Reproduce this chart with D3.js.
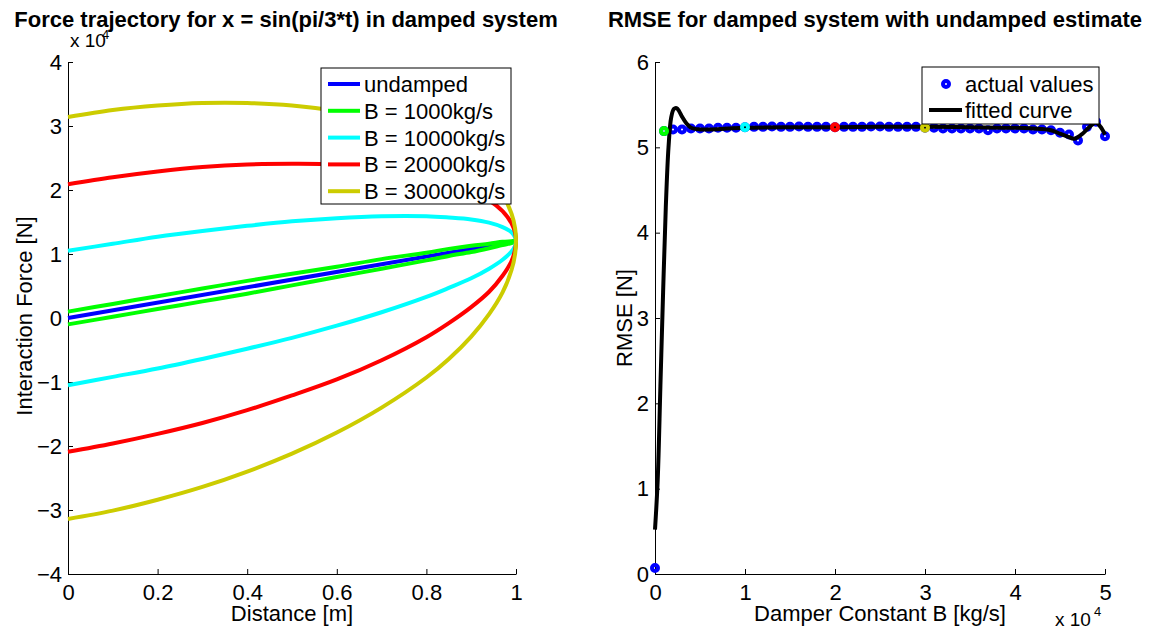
<!DOCTYPE html>
<html><head><meta charset="utf-8">
<script src="https://cdn.jsdelivr.net/npm/d3@7"></script>
<style>
body{margin:0;background:#fff}
text{font-family:"Liberation Sans",Arial,Helvetica,sans-serif;fill:#000}
</style>
</head><body><script>
// ---------- Left chart data (force in units of 1e4 N) ----------
const distX = [0,0.1,0.2,0.3,0.4,0.5,0.6,0.7,0.8,0.85,0.9,0.94,0.97,0.99,0.998,1];
const undampedX = [0,1];
const undampedF = [0,1.2];
const b1000Upper  = [0.10,0.22,0.34,0.46,0.58,0.69,0.80,0.92,1.02,1.08,1.13,1.16,1.19,1.20,1.205,1.20];
const b1000Lower  = [-0.10,0.02,0.14,0.26,0.38,0.51,0.64,0.77,0.90,0.97,1.03,1.09,1.14,1.17,1.19,1.20];
const b10000Upper = [1.05,1.16,1.27,1.36,1.44,1.51,1.56,1.59,1.59,1.57,1.54,1.49,1.42,1.34,1.26,1.20];
const b10000Lower = [-1.05,-0.92,-0.79,-0.64,-0.48,-0.31,-0.12,0.09,0.33,0.47,0.62,0.77,0.91,1.04,1.13,1.20];
const b20000Upper = [2.09,2.20,2.29,2.36,2.40,2.41,2.40,2.34,2.22,2.12,1.99,1.84,1.67,1.48,1.33,1.20];
const b20000Lower = [-2.09,-1.96,-1.81,-1.64,-1.44,-1.21,-0.96,-0.66,-0.30,-0.08,0.17,0.41,0.66,0.89,1.07,1.20];
const b30000Upper = [3.14,3.25,3.32,3.36,3.36,3.32,3.23,3.08,2.85,2.68,2.45,2.20,1.93,1.63,1.40,1.20];
const b30000Lower = [-3.14,-3.01,-2.84,-2.64,-2.40,-2.12,-1.79,-1.40,-0.93,-0.64,-0.29,0.06,0.40,0.75,1.00,1.20];
const seriesNames  = ["undamped","B = 1000kg/s","B = 10000kg/s","B = 20000kg/s","B = 30000kg/s"];
const seriesColors = ["#0000ff","#00ff00","#00ffff","#ff0000","#cccc00"];
const leftXTicks = [0,0.2,0.4,0.6,0.8,1];
const leftXTickLabels = ["0","0.2","0.4","0.6","0.8","1"];
const leftYTicks = [-4,-3,-2,-1,0,1,2,3,4];
const leftYTickLabels = ["\u22124","\u22123","\u22122","\u22121","0","1","2","3","4"];

// ---------- Right chart data ----------
const rmseB = [0,1000,2000,3000,4000,5000,6000,7000,8000,9000,10000,11000,12000,13000,14000,15000,16000,17000,18000,19000,20000,
  21000,22000,23000,24000,25000,26000,27000,28000,29000,30000,31000,32000,33000,34000,35000,36000,37000,38000,39000,40000,
  41000,42000,43000,44000,45000,46000,47000,48000,49000,50000];
const rmseVal = [0.07,5.19,5.21,5.21,5.22,5.22,5.22,5.23,5.23,5.23,5.235,5.24,5.24,5.245,5.24,5.24,5.245,5.24,5.24,5.24,5.235,
  5.24,5.24,5.24,5.245,5.245,5.24,5.24,5.24,5.24,5.23,5.23,5.22,5.22,5.22,5.22,5.22,5.20,5.22,5.22,5.22,
  5.22,5.21,5.21,5.20,5.17,5.15,5.08,5.24,5.30,5.13];
const fitB = [0,300,600,900,1200,1500,1800,2100,2400,2700,3000,3500,4000,5000,6000,8000,10000,15000,20000,25000,30000,35000,
  40000,42000,44000,45000,46000,46500,47000,47500,48000,48500,49000,49500,50000];
const fitR = [0.52,1.1,2.2,3.3,4.3,5.0,5.35,5.45,5.46,5.42,5.36,5.28,5.23,5.21,5.21,5.22,5.23,5.235,5.235,5.24,5.24,5.235,
  5.23,5.22,5.20,5.16,5.12,5.10,5.12,5.16,5.21,5.26,5.29,5.24,5.15];
const highlightB = [1000,10000,20000,30000];
const highlightColors = ["#00ff00","#00ffff","#ff0000","#cccc00"];
const rightXTicks = [0,10000,20000,30000,40000,50000];
const rightXTickLabels = ["0","1","2","3","4","5"];
const rightYTicks = [0,1,2,3,4,5,6];
const rightYTickLabels = ["0","1","2","3","4","5","6"];

const svg = d3.select("body").append("svg").attr("width",1154).attr("height",630);
const FONT = '"Liberation Sans",Arial,Helvetica,sans-serif';
const FS = 22;

function styleAxis(g){
  g.attr("font-family",FONT).attr("font-size",FS);
  g.selectAll("path.domain").attr("stroke","#000").attr("stroke-width",1);
  g.selectAll(".tick line").attr("stroke","#000").attr("stroke-width",1);
  g.selectAll(".tick text").attr("fill","#000");
}

// ================= LEFT CHART =================
const xL = d3.scaleLinear().domain([0,1]).range([68,516]);
const yL = d3.scaleLinear().domain([-4,4]).range([574,62]);

svg.append("g").attr("transform","translate(0,574)")
  .call(d3.axisBottom(xL).tickValues(leftXTicks).tickFormat((d,i)=>leftXTickLabels[i]).tickSize(-5).tickSizeOuter(0).tickPadding(10))
  .call(styleAxis);
svg.append("g").attr("transform","translate(68,0)")
  .call(d3.axisLeft(yL).tickValues(leftYTicks).tickFormat((d,i)=>leftYTickLabels[i]).tickSize(-5).tickSizeOuter(0).tickPadding(6))
  .call(styleAxis);

const lineL = d3.line().x(d=>xL(d[0])).y(d=>yL(d[1])).curve(d3.curveCatmullRom.alpha(0.5));
function loop(upper, lower){
  const pts = distX.map((x,i)=>[x,upper[i]]);
  for(let i=distX.length-2;i>=0;i--) pts.push([distX[i],lower[i]]);
  return pts;
}
const leftSeries = [
  undampedX.map((x,i)=>[x,undampedF[i]]),
  loop(b1000Upper,b1000Lower),
  loop(b10000Upper,b10000Lower),
  loop(b20000Upper,b20000Lower),
  loop(b30000Upper,b30000Lower)
];
leftSeries.forEach((pts,i)=>{
  svg.append("path").attr("d",lineL(pts)).attr("fill","none")
    .attr("stroke",seriesColors[i]).attr("stroke-width",4).attr("stroke-linejoin","round");
});

// left legend
const legL = svg.append("g");
legL.append("rect").attr("x",321).attr("y",68).attr("width",190).attr("height",136)
  .attr("fill","#fff").attr("stroke","#000").attr("stroke-width",1);
seriesNames.forEach((n,i)=>{
  const cy = 84 + i*26.8;
  legL.append("line").attr("x1",328).attr("x2",360).attr("y1",cy).attr("y2",cy)
    .attr("stroke",seriesColors[i]).attr("stroke-width",4);
  legL.append("text").attr("x",364).attr("y",cy+8).attr("font-size",FS).text(n);
});

// left texts
svg.append("text").attr("x",286).attr("y",27).attr("text-anchor","middle")
  .attr("font-size",22).attr("font-weight","bold").text("Force trajectory for x = sin(pi/3*t) in damped system");
svg.append("text").attr("x",292).attr("y",621).attr("text-anchor","middle").attr("font-size",FS).text("Distance [m]");
svg.append("text").attr("transform","translate(32,316) rotate(-90)").attr("text-anchor","middle")
  .attr("font-size",FS).text("Interaction Force [N]");
svg.append("text").attr("x",70).attr("y",47).attr("font-size",19).text("x 10");
svg.append("text").attr("x",102).attr("y",39).attr("font-size",13).text("4");

// ================= RIGHT CHART =================
const xR = d3.scaleLinear().domain([0,50000]).range([655,1105]);
const yR = d3.scaleLinear().domain([0,6]).range([574,62]);

svg.append("g").attr("transform","translate(0,574)")
  .call(d3.axisBottom(xR).tickValues(rightXTicks).tickFormat((d,i)=>rightXTickLabels[i]).tickSize(-5).tickSizeOuter(0).tickPadding(10))
  .call(styleAxis);
svg.append("g").attr("transform","translate(655,0)")
  .call(d3.axisLeft(yR).tickValues(rightYTicks).tickFormat((d,i)=>rightYTickLabels[i]).tickSize(-5).tickSizeOuter(0).tickPadding(6))
  .call(styleAxis);

// blue markers
svg.append("g").selectAll("circle").data(rmseB.map((b,i)=>[b,rmseVal[i]])).join("circle")
  .attr("cx",d=>xR(d[0])).attr("cy",d=>yR(d[1])).attr("r",3)
  .attr("fill","none").attr("stroke","#0000ff").attr("stroke-width",4);

// fitted curve
const lineR = d3.line().x(d=>xR(d[0])).y(d=>yR(d[1])).curve(d3.curveCatmullRom.alpha(0.5));
svg.append("path").attr("d",lineR(fitB.map((b,i)=>[b,fitR[i]]))).attr("fill","none")
  .attr("stroke","#000").attr("stroke-width",4).attr("stroke-linejoin","round");

// highlighted markers
svg.append("g").selectAll("circle").data(highlightB).join("circle")
  .attr("cx",b=>xR(b)).attr("cy",b=>yR(rmseVal[rmseB.indexOf(b)])).attr("r",3)
  .attr("fill","none").attr("stroke",(b,i)=>highlightColors[i]).attr("stroke-width",4);

// right legend
const legR = svg.append("g");
legR.append("rect").attr("x",922).attr("y",67).attr("width",177).attr("height",57)
  .attr("fill","#fff").attr("stroke","#000").attr("stroke-width",1);
legR.append("circle").attr("cx",946).attr("cy",84).attr("r",3).attr("fill","none")
  .attr("stroke","#0000ff").attr("stroke-width",4);
legR.append("text").attr("x",965).attr("y",92).attr("font-size",FS).text("actual values");
legR.append("line").attr("x1",929).attr("x2",962).attr("y1",110).attr("y2",110)
  .attr("stroke","#000").attr("stroke-width",4);
legR.append("text").attr("x",965).attr("y",118).attr("font-size",FS).text("fitted curve");

// right texts
svg.append("text").attr("x",875).attr("y",27).attr("text-anchor","middle")
  .attr("font-size",22).attr("font-weight","bold").text("RMSE for damped system with undamped estimate");
svg.append("text").attr("x",880).attr("y",621).attr("text-anchor","middle").attr("font-size",FS).text("Damper Constant B [kg/s]");
svg.append("text").attr("transform","translate(632,318) rotate(-90)").attr("text-anchor","middle")
  .attr("font-size",FS).text("RMSE [N]");
svg.append("text").attr("x",1055).attr("y",626).attr("font-size",19).text("x 10");
svg.append("text").attr("x",1094).attr("y",616).attr("font-size",13).text("4");
</script></body></html>
